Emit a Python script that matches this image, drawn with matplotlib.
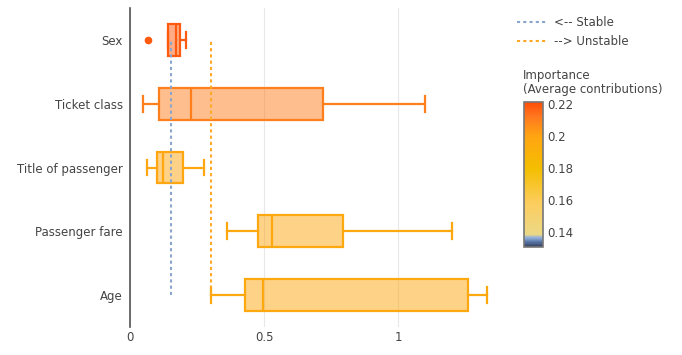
import matplotlib
matplotlib.use("Agg")
import matplotlib.pyplot as plt
import numpy as np
from matplotlib.colors import LinearSegmentedColormap, Normalize
from matplotlib.lines import Line2D
import matplotlib.cm as cm

features = ["Sex", "Ticket class", "Title of passenger", "Passenger fare", "Age"]
q1 = [0.142, 0.109, 0.100, 0.478, 0.428]
med = [0.172, 0.226, 0.124, 0.531, 0.496]
q3 = [0.187, 0.719, 0.199, 0.796, 1.262]
whislo = [0.142, 0.050, 0.062, 0.363, 0.301]
whishi = [0.209, 1.100, 0.276, 1.201, 1.333]
fliers = [[0.068], [], [], [], []]
importance = [0.218, 0.210, 0.199, 0.198, 0.198]
stable_threshold = 0.152
unstable_threshold = 0.301
imp_min, imp_max = 0.131, 0.221

cmap = LinearSegmentedColormap.from_list("contrib", [
    (0.00, (52/255, 62/255, 90/255)),
    (0.035, (90/255, 120/255, 170/255)),
    (0.065, (150/255, 180/255, 220/255)),
    (0.085, (235/255, 216/255, 134/255)),
    (0.30, (252/255, 205/255, 95/255)),
    (0.54, (244/255, 190/255, 0/255)),
    (0.76, (255/255, 166/255, 17/255)),
    (0.90, (255/255, 120/255, 30/255)),
    (1.00, (255/255, 77/255, 7/255)),
])
norm = Normalize(vmin=imp_min, vmax=imp_max)

FS = 8.5
fig = plt.figure(figsize=(6.82, 3.55), dpi=100)
ax = fig.add_axes([130/682, 1-327/355, 370/682, 319/355])

n = len(features)
positions = [n - 1 - i for i in range(n)]
text_color = "#444444"
dots = (0, (1.5, 1.5))
stable_col = "#8aa6cc"
unstable_col = "#ffa726"

for i in range(n):
    col = cmap(norm(importance[i]))
    stats = [dict(q1=q1[i], med=med[i], q3=q3[i], whislo=whislo[i],
                  whishi=whishi[i], fliers=fliers[i], label=features[i])]
    ax.bxp(stats, positions=[positions[i]], vert=False, widths=0.5,
           patch_artist=True, showfliers=True,
           boxprops=dict(facecolor=(*col[:3], 0.5), edgecolor=col, linewidth=1.6),
           medianprops=dict(color=col, linewidth=1.6),
           whiskerprops=dict(color=col, linewidth=1.6),
           capprops=dict(color=col, linewidth=1.6),
           flierprops=dict(marker="o", markerfacecolor=col, markeredgecolor=col,
                           markersize=4.5), zorder=2)

ax.plot([stable_threshold, stable_threshold], [positions[-1], positions[0]],
        color=stable_col, linestyle=dots, linewidth=1.5, zorder=3)
ax.plot([unstable_threshold, unstable_threshold], [positions[-1], positions[0]],
        color=unstable_col, linestyle=dots, linewidth=1.5, zorder=3)

ax.set_xlim(0, 1.38)
ax.set_ylim(-0.5, n - 0.5)
ax.set_yticks(positions)
ax.set_yticklabels(features)
ax.set_xticks([0, 0.5, 1])
ax.set_xticklabels(["0", "0.5", "1"])
ax.tick_params(axis="both", length=0, labelsize=FS, labelcolor=text_color)
ax.tick_params(axis="y", pad=5)
ax.tick_params(axis="x", pad=3)
ax.xaxis.grid(True, color="#e8e8e8", linewidth=0.8, zorder=0)
ax.set_axisbelow(True)
for s in ["top", "right", "bottom"]:
    ax.spines[s].set_visible(False)
ax.spines["left"].set_color("#555555")
ax.spines["left"].set_linewidth(1.2)

handles = [Line2D([0], [0], color=stable_col, linestyle=dots, linewidth=1.5),
           Line2D([0], [0], color=unstable_col, linestyle=dots, linewidth=1.5)]
fig.legend(handles, ["<-- Stable", "--> Unstable"], loc="upper left",
           bbox_to_anchor=(515/682, 1-14/355), frameon=False, fontsize=FS,
           handlelength=2.4, handletextpad=0.7, labelspacing=0.45, labelcolor=text_color,
           borderaxespad=0, borderpad=0.2)

cax = fig.add_axes([524/682, 1-247/355, 19/682, 145/355])
sm = cm.ScalarMappable(norm=norm, cmap=cmap)
cb = fig.colorbar(sm, cax=cax, ticks=[0.14, 0.16, 0.18, 0.2, 0.22])
cb.ax.set_yticklabels(["0.14", "0.16", "0.18", "0.2", "0.22"])
cb.ax.tick_params(length=0, labelsize=FS, labelcolor=text_color, pad=3)
cb.outline.set_edgecolor("#777777")
cb.outline.set_linewidth(1.2)
fig.text(523/682, 1-69/355, "Importance\n(Average contributions)", ha="left", va="top",
         fontsize=FS, color=text_color, linespacing=1.05)

fig.savefig("out.png", dpi=100)
